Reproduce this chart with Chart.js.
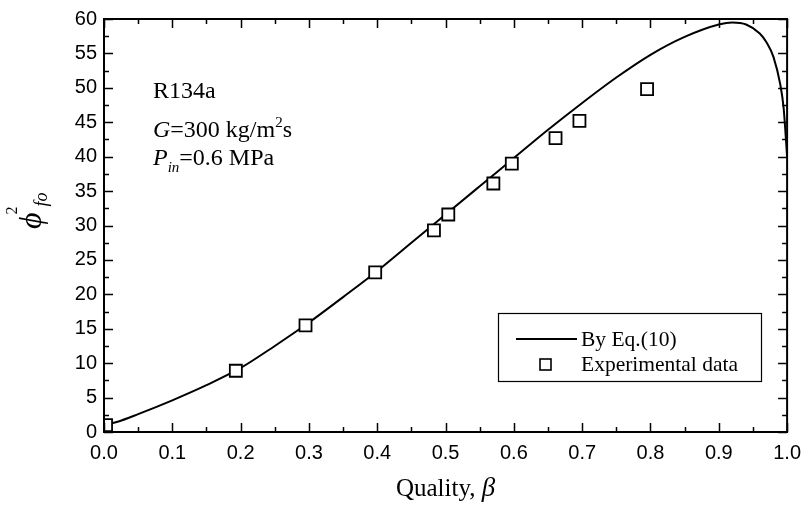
<!DOCTYPE html>
<html>
<head>
<meta charset="utf-8">
<script src="https://cdn.jsdelivr.net/npm/chart.js@4.4.1/dist/chart.umd.min.js"></script>
<style>
  html, body { margin: 0; padding: 0; background: #fff; }
  #chart { display: block; }
</style>
</head>
<body>
<canvas id="chart" width="810" height="515"></canvas>
<script>
// curve "By Eq.(10)"
const curveX = [0, 0.02, 0.05, 0.1, 0.15, 0.2, 0.25, 0.3, 0.35, 0.4, 0.45, 0.5, 0.55, 0.6, 0.65, 0.7, 0.75, 0.8, 0.85, 0.9, 0.92, 0.94, 0.96, 0.97, 0.98, 0.99, 0.995, 1.0];
const curveY = [1.0, 1.5, 2.6, 4.6, 6.8, 9.3, 12.5, 15.9, 19.6, 23.4, 27.5, 31.6, 35.7, 39.8, 43.9, 47.8, 51.5, 54.8, 57.4, 59.2, 59.5, 59.2, 57.9, 56.6, 54.5, 50.5, 47.0, 40.0];

// experimental points
const expX = [0.003, 0.193, 0.295, 0.397, 0.483, 0.504, 0.570, 0.597, 0.661, 0.696, 0.795];
const expY = [1.0, 8.9, 15.5, 23.2, 29.3, 31.6, 36.1, 39.0, 42.7, 45.2, 49.8];

const xMin = 0, xMax = 1, xStep = 0.1, xMinor = 0.05;
const yMin = 0, yMax = 60, yStep = 5, yMinor = 2.5;

const serif = '"Liberation Serif", "Times New Roman", serif';
const sans = '"Liberation Sans", Arial, sans-serif';

// frame + inward ticks on all four sides
const framePlugin = {
  id: 'frame',
  afterDraw(chart) {
    const ctx = chart.ctx;
    const a = chart.chartArea;
    const xs = chart.scales.x, ys = chart.scales.y;
    ctx.save();
    ctx.strokeStyle = '#000';
    ctx.lineWidth = 2;
    ctx.strokeRect(a.left, a.top, a.right - a.left, a.bottom - a.top);
    ctx.lineWidth = 1.5;
    ctx.beginPath();
    for (let v = xMin; v <= xMax + 1e-9; v += xMinor) {
      const major = Math.abs(v / xStep - Math.round(v / xStep)) < 1e-6;
      const len = major ? 9 : 5;
      const px = Math.round(xs.getPixelForValue(v)) + 0.5;
      ctx.moveTo(px, a.bottom); ctx.lineTo(px, a.bottom - len);
      ctx.moveTo(px, a.top); ctx.lineTo(px, a.top + len);
    }
    for (let v = yMin; v <= yMax + 1e-9; v += yMinor) {
      const major = Math.abs(v / yStep - Math.round(v / yStep)) < 1e-6;
      const len = major ? 9 : 5;
      const py = Math.round(ys.getPixelForValue(v)) + 0.5;
      ctx.moveTo(a.left, py); ctx.lineTo(a.left + len, py);
      ctx.moveTo(a.right, py); ctx.lineTo(a.right - len, py);
    }
    ctx.stroke();
    ctx.restore();
  }
};

// axis titles, notes and the boxed legend
const textPlugin = {
  id: 'texts',
  afterDraw(chart) {
    const ctx = chart.ctx;
    const a = chart.chartArea;
    ctx.save();
    ctx.fillStyle = '#000';
    ctx.textBaseline = 'alphabetic';

    // x title: Quality, β
    const t1 = 'Quality, ';
    ctx.font = 'italic 27px ' + serif;
    const wb = ctx.measureText('β').width;
    ctx.font = '25px ' + serif;
    const w1 = ctx.measureText(t1).width;
    let x0 = (a.left + a.right) / 2 - (w1 + wb) / 2;
    ctx.fillText(t1, x0, 496);
    ctx.font = 'italic 27px ' + serif;
    ctx.fillText('β', x0 + w1, 496);

    // y title: φ^2_fo, rotated
    ctx.save();
    ctx.translate(41, 229);
    ctx.rotate(-Math.PI / 2);
    ctx.font = 'italic 32px ' + serif;
    ctx.fillText('ϕ', 0, 0);
    const wp = ctx.measureText('ϕ').width;
    ctx.font = '16px ' + serif;
    ctx.fillText('2', wp - 2, -24);
    ctx.font = 'italic 18px ' + serif;
    ctx.fillText('fo', wp + 6, 6);
    ctx.restore();

    // notes
    ctx.font = '24px ' + serif;
    ctx.fillText('R134a', 153, 98);

    let x = 153;
    ctx.font = 'italic 24px ' + serif;
    ctx.fillText('G', x, 137); x += ctx.measureText('G').width;
    ctx.font = '24px ' + serif;
    ctx.fillText('=300 kg/m', x, 137); x += ctx.measureText('=300 kg/m').width;
    ctx.font = '15px ' + serif;
    ctx.fillText('2', x, 127); x += ctx.measureText('2').width;
    ctx.font = '24px ' + serif;
    ctx.fillText('s', x, 137);

    x = 153;
    ctx.font = 'italic 24px ' + serif;
    ctx.fillText('P', x, 165); x += ctx.measureText('P').width;
    ctx.font = 'italic 15px ' + serif;
    ctx.fillText('in', x, 172); x += ctx.measureText('in').width;
    ctx.font = '24px ' + serif;
    ctx.fillText('=0.6 MPa', x, 165);

    // legend box
    const ds = chart.data.datasets;
    ctx.lineWidth = 1.2;
    ctx.strokeStyle = '#000';
    ctx.strokeRect(498.5, 313.5, 263, 68);
    ctx.lineWidth = 2;
    ctx.beginPath();
    ctx.moveTo(516, 339); ctx.lineTo(577, 339);
    ctx.stroke();
    ctx.lineWidth = 1.6;
    ctx.fillStyle = '#fff';
    ctx.fillRect(540, 359, 11, 11);
    ctx.strokeRect(540, 359, 11, 11);
    ctx.fillStyle = '#000';
    ctx.font = '21.5px ' + serif;
    ctx.fillText(ds[0].label, 581, 346);
    ctx.fillText(ds[1].label, 581, 371);
    ctx.restore();
  }
};

const curvePts = curveX.map((v, i) => ({ x: v, y: curveY[i] }));
const expPts = expX.map((v, i) => ({ x: v, y: expY[i] }));

new Chart(document.getElementById('chart').getContext('2d'), {
  type: 'scatter',
  data: {
    datasets: [{
      label: 'By Eq.(10)',
      data: curvePts,
      showLine: true,
      borderColor: '#000',
      borderWidth: 2,
      pointRadius: 0,
      cubicInterpolationMode: 'monotone',
      order: 2
    }, {
      label: 'Experimental data',
      data: expPts,
      showLine: false,
      pointStyle: 'rect',
      pointRadius: 8.5,
      pointBackgroundColor: '#fff',
      pointBorderColor: '#000',
      pointBorderWidth: 1.8,
      order: 1
    }]
  },
  options: {
    responsive: false,
    animation: false,
    events: [],
    layout: { padding: { left: 0, top: 18, right: 17, bottom: 0 } },
    plugins: { legend: { display: false }, tooltip: { enabled: false } },
    scales: {
      x: {
        type: 'linear',
        min: xMin, max: xMax,
        grid: { display: false, drawTicks: false },
        border: { display: false },
        ticks: {
          stepSize: xStep,
          padding: 9,
          color: '#000',
          font: { family: sans, size: 20 },
          callback: v => v.toFixed(1)
        },
        afterFit(scale) { scale.height = 83; }
      },
      y: {
        type: 'linear',
        min: yMin, max: yMax,
        grid: { display: false, drawTicks: false },
        border: { display: false },
        ticks: {
          stepSize: yStep,
          padding: 7,
          color: '#000',
          font: { family: sans, size: 20 }
        },
        afterFit(scale) { scale.width = 104; }
      }
    }
  },
  plugins: [framePlugin, textPlugin]
});
</script>
</body>
</html>
